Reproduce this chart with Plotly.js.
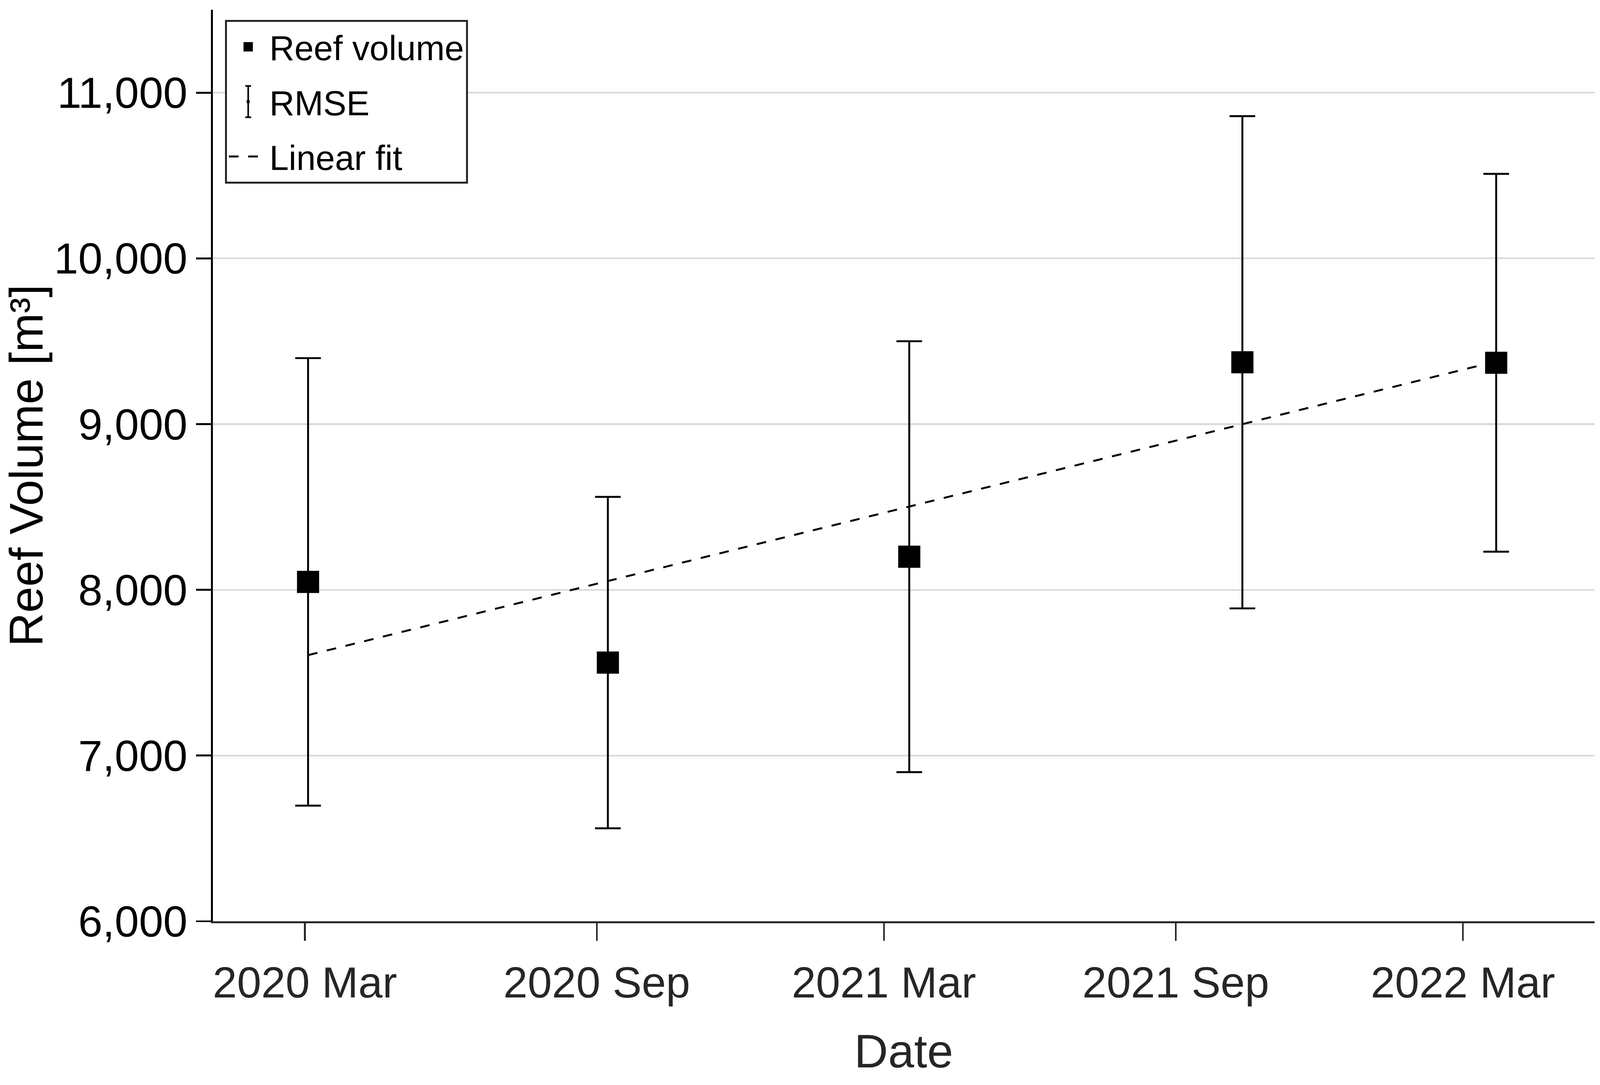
<!DOCTYPE html>
<html>
<head>
<meta charset="utf-8">
<script src="https://cdn.plot.ly/plotly-3.0.1.min.js"></script>
<style>
  html, body { margin: 0; padding: 0; background: #fff; overflow: hidden; }
</style>
</head>
<body>
<div id="chart"></div>
<script>
// survey dates and reef volume (m3)
const surveyDates = ['2020-03-03', '2020-09-08', '2021-03-17', '2021-10-13', '2022-03-22'];
const reefVolume = [8048, 7561, 8200, 9373, 9370];
const rmse = [1350, 1000, 1300, 1485, 1140];

// linear fit, evaluated at the first and last survey
const fitDates = ['2020-03-03', '2022-03-22'];
const fitVolume = [7606, 9378];

const yTicks = [6000, 7000, 8000, 9000, 10000, 11000];

const FONT = 'Liberation Sans, Arial, Helvetica, sans-serif';

// figure was laid out for 4985 x 2777, the browser may give less, so scale
const W = window.innerWidth || 4985;
const H = window.innerHeight || 2777;
const sx = W / 4985, sy = H / 2777;
const S = Math.min(sx, sy);
const px = v => v * S;

// error bars get their own trace so they show up as "RMSE" in the legend
const errTrace = {
    x: surveyDates,
    y: reefVolume,
    type: 'scatter',
    mode: 'markers',
    name: 'RMSE',
    legendrank: 2,
    legendgroup: 'b',
    marker: {
        symbol: 'line-ns-open',
        size: px(40),
        color: '#000',
        line: { color: '#000', width: px(6) }
    },
    error_y: {
        type: 'data',
        array: rmse,
        visible: true,
        color: '#000',
        thickness: px(6),
        width: px(40)
    },
    hoverinfo: 'skip'
}

const fitTrace = {
    x: fitDates,
    y: fitVolume,
    type: 'scatter',
    mode: 'lines',
    name: 'Linear fit',
    legendrank: 3,
    legendgroup: 'c',
    line: { color: '#000', width: px(6), dash: px(30) + 'px,' + px(30) + 'px' }
}

const volTrace = {
    x: surveyDates,
    y: reefVolume,
    type: 'scatter',
    mode: 'markers',
    name: 'Reef volume',
    legendrank: 1,
    legendgroup: 'a',
    marker: { symbol: 'square', size: px(69), color: '#000', line: { width: 0 } }
}

const layout = {
    width: W,
    height: H,
    margin: { l: 663 * sx, r: 17 * sx, t: 25 * sy, b: 419 * sy, pad: 0 },
    paper_bgcolor: '#fff',
    plot_bgcolor: '#fff',
    font: { family: FONT, color: '#000' },
    showlegend: true,
    legend: {
        x: 0.0088,
        y: 0.989,
        xanchor: 'left',
        yanchor: 'top',
        bgcolor: '#fff',
        bordercolor: '#262626',
        borderwidth: px(6),
        font: { family: FONT, size: px(108), color: '#000' },
        itemwidth: px(120),
        tracegroupgap: 22 * sy
    },
    xaxis: {
        type: 'date',
        range: ['2020-01-03', '2022-05-23'],
        tick0: '2020-03-01',
        dtick: 'M6',
        tickformat: '%Y %b',
        ticks: 'outside',
        ticklen: 45 * sy,
        tickwidth: px(5),
        tickcolor: '#262626',
        ticklabelstandoff: 11 * sy,
        showline: true,
        linecolor: '#262626',
        linewidth: px(6),
        showgrid: false,
        zeroline: false,
        tickfont: { family: FONT, size: px(136), color: '#262626' },
        title: { text: 'Date', font: { family: FONT, size: px(146), color: '#262626' } }
    },
    yaxis: {
        range: [6000, 11500],
        tickvals: yTicks,
        tickformat: ',d',
        ticks: 'outside',
        ticklen: 46 * sx,
        tickwidth: px(6),
        tickcolor: '#000',
        showline: true,
        linecolor: '#000',
        linewidth: px(6),
        showgrid: true,
        gridcolor: '#d9d9d9',
        gridwidth: px(5),
        zeroline: false,
        automargin: true,
        tickfont: { family: FONT, size: px(136), color: '#000' },
        title: {
            text: 'Reef Volume [m³]',
            standoff: px(24),
            font: { family: FONT, size: px(146), color: '#000' }
        }
    }
}

Plotly.newPlot('chart', [errTrace, fitTrace, volTrace], layout, { displayModeBar: false, staticPlot: true }).then(gd => {
    // plotly caps legend symbols at 16px; enlarge the square and turn the
    // RMSE symbol into a little error bar
    gd.querySelectorAll('.legend .traces').forEach(tr => {
        const name = tr.querySelector('.legendtext').textContent;
        tr.querySelectorAll('.legendpoints path.scatterpts').forEach(p => {
            const t = p.getAttribute('transform') || '';
            if (name === 'Reef volume') p.setAttribute('transform', t + ' scale(1.5)');
            if (name === 'RMSE') {
                const h = 40 * sy, w = 9 * S, c = 4 * S;
                p.setAttribute('d',
                    'M' + (-w) + ',' + (-h) + 'H' + w + 'M0,' + (-h) + 'V' + h + 'M' + (-w) + ',' + h + 'H' + w +
                    'M' + (-c) + ',' + (-c) + 'L' + c + ',' + c + 'M' + (-c) + ',' + c + 'L' + c + ',' + (-c));
                p.style.strokeWidth = px(5) + 'px';
            }
        });
    });
});
</script>
</body>
</html>
